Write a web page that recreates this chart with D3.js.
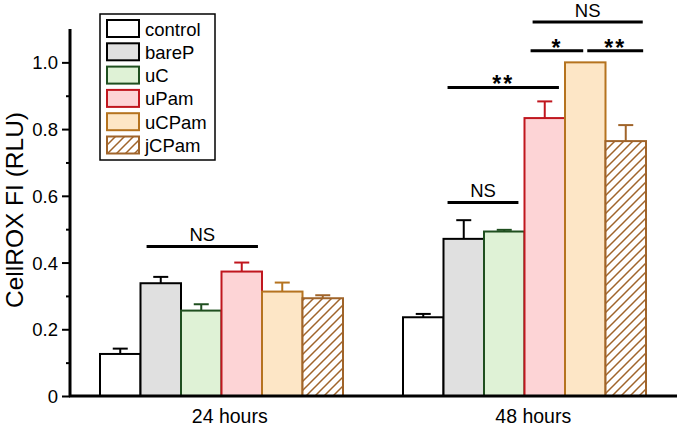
<!DOCTYPE html>
<html><head><meta charset="utf-8">
<script src="https://cdn.jsdelivr.net/npm/d3@7"></script>
<style>body{margin:0;background:#fff}svg{display:block}text{font-family:Arial,"Liberation Sans",sans-serif}</style>
</head><body><div id="c"></div>
<script>
const groups = ["24 hours", "48 hours"];
const seriesNames = ["control", "bareP", "uC", "uPam", "uCPam", "jCPam"];
const values24 = [0.126, 0.338, 0.256, 0.373, 0.313, 0.293];
const errors24 = [0.016, 0.019, 0.019, 0.027, 0.027, 0.009];
const values48 = [0.236, 0.471, 0.493, 0.833, 1.0, 0.764];
const errors48 = [0.010, 0.056, 0.005, 0.050, 0, 0.048];
const fills = ["#ffffff", "#e0e0e0", "#dff2d6", "#fdd4d6", "#fde6c6", "url(#hatch)"];
const strokes = ["#000000", "#000000", "#1f4f1f", "#c0161e", "#b5731f", "#a0642a"];
const yTicks = [0, 0.2, 0.4, 0.6, 0.8, 1.0];
const yTickLabels = ["0", "0.2", "0.4", "0.6", "0.8", "1.0"];
// significance annotations (span in bar widths from the group's left edge)
const sigs = [
  {g:"24 hours", x0:1.15, x1:3.9, y:0.448, label:"NS"},
  {g:"48 hours", x0:1.1, x1:2.85, y:0.58, label:"NS"},
  {g:"48 hours", x0:1.1, x1:3.85, y:0.925, label:"**"},
  {g:"48 hours", x0:3.15, x1:4.45, y:1.035, label:"*"},
  {g:"48 hours", x0:4.55, x1:5.93, y:1.035, label:"**"},
  {g:"48 hours", x0:3.2, x1:5.92, y:1.121, label:"NS"}
];

const W = 677, H = 430;
const svg = d3.select("#c").append("svg").attr("width", W).attr("height", H);
const defs = svg.append("defs");
const pat = defs.append("pattern").attr("id","hatch").attr("patternUnits","userSpaceOnUse")
  .attr("width",9).attr("height",9);
pat.append("rect").attr("width",9).attr("height",9).attr("fill","#fff");
pat.append("path").attr("d","M-2,2 L2,-2 M0,9 L9,0 M7,11 L11,7").attr("stroke","#a0642a").attr("stroke-width",1.5);

const y = d3.scaleLinear().domain([0, 1.1]).range([396, 29]);
const x0 = d3.scaleBand().domain(groups).range([70, 677]).paddingOuter(0.1).paddingInner(0.2);
const inner = d3.scaleBand().domain(d3.range(6)).range([0, 243]);
const gOff = {"24 hours": 100 - x0("24 hours"), "48 hours": 403 - x0("48 hours")};
const bx = (g, i) => x0(g) + gOff[g] + inner(i);

const data = [];
groups.forEach((g, gi) => {
  const vals = gi === 0 ? values24 : values48;
  const errs = gi === 0 ? errors24 : errors48;
  seriesNames.forEach((s, i) => data.push({g, i, v: vals[i], e: errs[i]}));
});

const bw = inner.bandwidth();
svg.append("g").selectAll("rect").data(data).join("rect")
  .attr("x", d => bx(d.g, d.i)).attr("y", d => y(d.v))
  .attr("width", bw).attr("height", d => y(0) - y(d.v))
  .attr("fill", d => fills[d.i]).attr("stroke", d => strokes[d.i]).attr("stroke-width", 2);

// error bars (upper only)
const eb = svg.append("g");
data.filter(d => d.e > 0).forEach(d => {
  const cx = bx(d.g, d.i) + bw/2;
  eb.append("line").attr("x1",cx).attr("x2",cx).attr("y1",y(d.v)).attr("y2",y(d.v+d.e))
    .attr("stroke",strokes[d.i]).attr("stroke-width",2);
  eb.append("line").attr("x1",cx-7.5).attr("x2",cx+7.5).attr("y1",y(d.v+d.e)).attr("y2",y(d.v+d.e))
    .attr("stroke",strokes[d.i]).attr("stroke-width",2);
});

// y axis
const yAxis = d3.axisLeft(y).tickValues(yTicks).tickFormat((d,i) => yTickLabels[i]).tickSize(8).tickPadding(4);
const ya = svg.append("g").attr("transform","translate(70,0)").call(yAxis);
ya.select(".domain").remove();
ya.selectAll("line").attr("stroke","#000").attr("stroke-width",2);
ya.selectAll("text").attr("font-size",18.5).attr("fill","#000").attr("dy","0.35em");
const minor = d3.axisLeft(y).tickValues(d3.range(0.1, 1.1, 0.2)).tickFormat("").tickSize(4);
const ym = svg.append("g").attr("transform","translate(70,0)").call(minor);
ym.select(".domain").remove();
ym.selectAll("line").attr("stroke","#000").attr("stroke-width",2);
svg.append("line").attr("x1",70).attr("x2",70).attr("y1",y(1.1)).attr("y2",y(0)+1).attr("stroke","#000").attr("stroke-width",3);

// x axis
const xAxis = d3.axisBottom(x0).tickSize(0).tickPadding(0);
const xa = svg.append("g").attr("transform","translate(0,396)").call(xAxis);
xa.select(".domain").remove();
xa.selectAll("text").attr("font-size",19.5).attr("fill","#000").attr("dx", 8).attr("y", 27).attr("dy", 0);
svg.append("line").attr("x1",69).attr("x2",677).attr("y1",396).attr("y2",396).attr("stroke","#000").attr("stroke-width",3);

// y label
svg.append("text").attr("transform","translate(23,210) rotate(-90)").attr("text-anchor","middle")
  .attr("font-size",24.5).attr("fill","#000").text("CellROX FI (RLU)");

// significance
const sg = svg.append("g");
sigs.forEach(s => {
  const xa0 = bx(s.g, 0) + s.x0*bw, xa1 = bx(s.g, 0) + s.x1*bw;
  sg.append("line").attr("x1",xa0).attr("x2",xa1).attr("y1",y(s.y)).attr("y2",y(s.y))
    .attr("stroke","#000").attr("stroke-width",3);
  const star = s.label !== "NS";
  sg.append("text").attr("x",(xa0+xa1)/2).attr("y",y(s.y) + (star ? 5 : -5.5))
    .attr("text-anchor","middle").attr("font-size", star ? 23 : 18.5).attr("fill","#000")
    .attr("font-weight", star ? "bold" : "normal")
    .attr("letter-spacing", star ? 2 : 0)
    .text(s.label);
});

// legend
const lg = svg.append("g");
lg.append("rect").attr("x",100).attr("y",14).attr("width",115).attr("height",146)
  .attr("fill","#fff").attr("stroke","#000").attr("stroke-width",1.5);
seriesNames.forEach((s, i) => {
  const yy = 20 + i*23.3;
  lg.append("rect").attr("x",107).attr("y",yy).attr("width",32).attr("height",17)
    .attr("fill",fills[i]).attr("stroke",strokes[i]).attr("stroke-width",2);
  lg.append("text").attr("x",145).attr("y",yy+15.5).attr("font-size",18.5).attr("fill","#000").text(s);
});
</script></body></html>
